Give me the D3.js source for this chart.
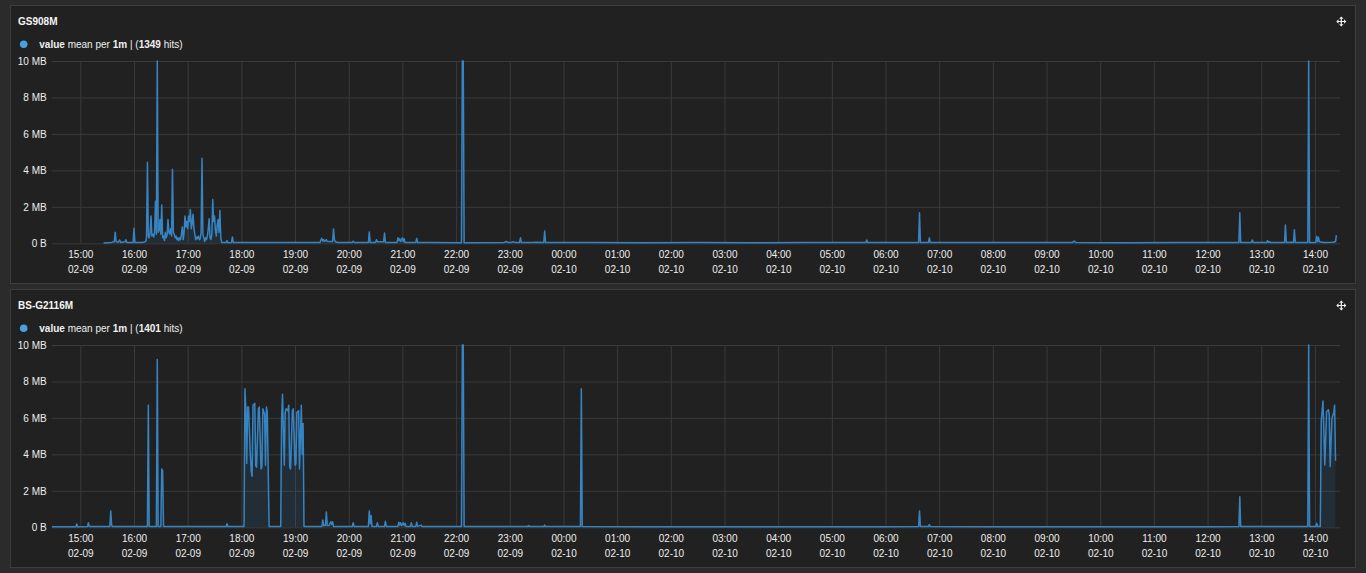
<!DOCTYPE html>
<html><head><meta charset="utf-8">
<script src="https://cdn.jsdelivr.net/npm/d3@7"></script>
<style>
html,body{margin:0;padding:0;background:#2b2b2b;}
svg{display:block;font-family:"Liberation Sans",Arial,Helvetica,sans-serif;}
</style></head><body>
<svg id="chart" width="1366" height="573"></svg>
<script>
// ---- data (values in MB, one point per minute where read) ----
const gsTimes = [
"02-09 15:26","02-09 15:35","02-09 15:38","02-09 15:39","02-09 15:40","02-09 15:42","02-09 15:44","02-09 15:45","02-09 15:50","02-09 15:51","02-09 15:52","02-09 15:59","02-09 16:00","02-09 16:01","02-09 16:10","02-09 16:13","02-09 16:14",
"02-09 16:15","02-09 16:16","02-09 16:17","02-09 16:18","02-09 16:19","02-09 16:20","02-09 16:21","02-09 16:22","02-09 16:23","02-09 16:24","02-09 16:25","02-09 16:26","02-09 16:27","02-09 16:28","02-09 16:29","02-09 16:30",
"02-09 16:31","02-09 16:32","02-09 16:33","02-09 16:34","02-09 16:35","02-09 16:36","02-09 16:37","02-09 16:38","02-09 16:39","02-09 16:40","02-09 16:41","02-09 16:42","02-09 16:43","02-09 16:44","02-09 16:45","02-09 16:46",
"02-09 16:47","02-09 16:48","02-09 16:49","02-09 16:50","02-09 16:51","02-09 16:52","02-09 16:53","02-09 16:54","02-09 16:55","02-09 16:56","02-09 16:57","02-09 16:58","02-09 16:59","02-09 17:00","02-09 17:01","02-09 17:02",
"02-09 17:03","02-09 17:04","02-09 17:05","02-09 17:06","02-09 17:07","02-09 17:08","02-09 17:09","02-09 17:10","02-09 17:11","02-09 17:12","02-09 17:13","02-09 17:14","02-09 17:15","02-09 17:16","02-09 17:17","02-09 17:18",
"02-09 17:19","02-09 17:20","02-09 17:21","02-09 17:22","02-09 17:23","02-09 17:24","02-09 17:25","02-09 17:26","02-09 17:27","02-09 17:28","02-09 17:29","02-09 17:30","02-09 17:31","02-09 17:32","02-09 17:33","02-09 17:34",
"02-09 17:35","02-09 17:36","02-09 17:37","02-09 17:38","02-09 17:43","02-09 17:44","02-09 17:45","02-09 17:49","02-09 17:50","02-09 17:51","02-09 18:10","02-09 18:40","02-09 19:10","02-09 19:28","02-09 19:29","02-09 19:30",
"02-09 19:31","02-09 19:32","02-09 19:33","02-09 19:35","02-09 19:36","02-09 19:42","02-09 19:43","02-09 19:44","02-09 19:45","02-09 19:47","02-09 20:04","02-09 20:05","02-09 20:06","02-09 20:22","02-09 20:23","02-09 20:24",
"02-09 20:30","02-09 20:31","02-09 20:32","02-09 20:39","02-09 20:40","02-09 20:41","02-09 20:54","02-09 20:55","02-09 20:56","02-09 20:57","02-09 20:58","02-09 21:00","02-09 21:01","02-09 21:02","02-09 21:03","02-09 21:15",
"02-09 21:16","02-09 21:17","02-09 21:30","02-09 22:06","02-09 22:07","02-09 22:08","02-09 22:09","02-09 22:54","02-09 22:56","02-09 22:58","02-09 23:02","02-09 23:04","02-09 23:06","02-09 23:11","02-09 23:12","02-09 23:13",
"02-09 23:25","02-09 23:30","02-09 23:38","02-09 23:39","02-09 23:40","02-10 00:30","02-10 01:30","02-10 02:30","02-10 03:30","02-10 04:30","02-10 05:38","02-10 05:39","02-10 05:40","02-10 06:20","02-10 06:37","02-10 06:38",
"02-10 06:39","02-10 06:48","02-10 06:49","02-10 06:50","02-10 07:30","02-10 08:30","02-10 09:29","02-10 09:30","02-10 09:31","02-10 09:32","02-10 09:33","02-10 10:30","02-10 11:30","02-10 12:20","02-10 12:35","02-10 12:36",
"02-10 12:37","02-10 12:49","02-10 12:50","02-10 12:51","02-10 13:06","02-10 13:07","02-10 13:08","02-10 13:09","02-10 13:10","02-10 13:26","02-10 13:27","02-10 13:28","02-10 13:34","02-10 13:36","02-10 13:37","02-10 13:38",
"02-10 13:52","02-10 13:53","02-10 13:54","02-10 14:01","02-10 14:02","02-10 14:03","02-10 14:04","02-10 14:05","02-10 14:10","02-10 14:20","02-10 14:23","02-10 14:24"];
const gsValues = [
0.02,0.05,0.1,0.6,0.1,0.05,0.18,0.05,0.08,0.2,0.05,0.05,0.82,0.05,0.05,0.1,0.3,
4.44,0.4,0.3,0.6,1.5,0.4,0.5,0.35,0.6,2.3,0.5,10,0.6,0.7,1.3,0.5,
2.1,0.3,0.4,0.15,0.6,0.3,0.45,1.3,0.6,0.5,0.8,0.4,4.06,0.6,0.5,0.3,
0.4,0.2,0.3,0.15,0.3,0.2,0.5,0.9,0.2,0.6,1.5,0.9,1.2,0.8,1.5,1.2,
1.86,0.8,1.1,1.6,0.8,0.5,0.2,0.35,0.25,0.4,0.2,0.25,0.6,4.66,0.5,0.3,
0.1,0.3,0.2,0.4,0.8,1.35,0.3,0.2,0.5,2.4,1.2,1.5,0.7,0.4,1.0,1.3,
0.6,1.8,0.3,0.05,0.05,0.15,0.03,0.05,0.35,0.05,0.04,0.04,0.05,0.05,0.2,0.27,
0.12,0.2,0.1,0.2,0.1,0.1,0.78,0.2,0.1,0.05,0.05,0.12,0.05,0.05,0.62,0.05,
0.05,0.2,0.08,0.08,0.56,0.05,0.05,0.3,0.15,0.25,0.1,0.3,0.1,0.25,0.05,0.05,
0.27,0.05,0.04,0.03,10,10,0.03,0.05,0.1,0.05,0.05,0.08,0.05,0.05,0.3,0.05,
0.05,0.06,0.05,0.67,0.05,0.04,0.03,0.04,0.03,0.04,0.04,0.18,0.04,0.04,0.05,1.68,
0.05,0.05,0.3,0.05,0.04,0.04,0.04,0.1,0.12,0.08,0.04,0.03,0.04,0.04,0.05,1.68,
0.05,0.05,0.18,0.05,0.05,0.15,0.05,0.1,0.05,0.05,1.0,0.05,0.06,0.05,0.75,0.05,
0.05,10,0.05,0.05,0.38,0.1,0.33,0.08,0.05,0.06,0.1,0.45];

const bsTimes = [
"02-09 14:28","02-09 14:55","02-09 14:56","02-09 14:57","02-09 15:08","02-09 15:09","02-09 15:10","02-09 15:33","02-09 15:34","02-09 15:35","02-09 15:36","02-09 16:15","02-09 16:16","02-09 16:17","02-09 16:25","02-09 16:26",
"02-09 16:27","02-09 16:30","02-09 16:31","02-09 16:32","02-09 16:33","02-09 17:43","02-09 17:44","02-09 17:45","02-09 18:03","02-09 18:04","02-09 18:05","02-09 18:06","02-09 18:07","02-09 18:08","02-09 18:10","02-09 18:11",
"02-09 18:12","02-09 18:13","02-09 18:15","02-09 18:16","02-09 18:17","02-09 18:19","02-09 18:20","02-09 18:22","02-09 18:23","02-09 18:24","02-09 18:26","02-09 18:27","02-09 18:28","02-09 18:29","02-09 18:31","02-09 18:44",
"02-09 18:45","02-09 18:46","02-09 18:48","02-09 18:49","02-09 18:50","02-09 18:52","02-09 18:53","02-09 18:54","02-09 18:55","02-09 18:57","02-09 18:58","02-09 19:00","02-09 19:01","02-09 19:02","02-09 19:04","02-09 19:05",
"02-09 19:07","02-09 19:08","02-09 19:09","02-09 19:10","02-09 19:30","02-09 19:31","02-09 19:32","02-09 19:34","02-09 19:35","02-09 19:36","02-09 19:38","02-09 19:40","02-09 19:41","02-09 19:42","02-09 19:43","02-09 20:04",
"02-09 20:05","02-09 20:06","02-09 20:22","02-09 20:23","02-09 20:24","02-09 20:25","02-09 20:26","02-09 20:31","02-09 20:32","02-09 20:33","02-09 20:40","02-09 20:41","02-09 20:42","02-09 20:55","02-09 20:56","02-09 20:57",
"02-09 20:58","02-09 20:59","02-09 21:01","02-09 21:02","02-09 21:03","02-09 21:04","02-09 21:09","02-09 21:10","02-09 21:11","02-09 21:15","02-09 21:16","02-09 21:17","02-09 21:21","02-09 21:22","02-09 22:06","02-09 22:07",
"02-09 22:08","02-09 22:09","02-09 23:20","02-09 23:21","02-09 23:22","02-09 23:38","02-09 23:39","02-09 23:40","02-10 00:19","02-10 00:20","02-10 00:21","02-10 01:30","02-10 03:00","02-10 04:30","02-10 06:00","02-10 06:37",
"02-10 06:38","02-10 06:39","02-10 06:48","02-10 06:49","02-10 06:50","02-10 08:00","02-10 09:30","02-10 11:00","02-10 12:00","02-10 12:35","02-10 12:36","02-10 12:37","02-10 13:52","02-10 13:53","02-10 13:54","02-10 14:01",
"02-10 14:02","02-10 14:03","02-10 14:06","02-10 14:07","02-10 14:09","02-10 14:11","02-10 14:13","02-10 14:15","02-10 14:16","02-10 14:17","02-10 14:19","02-10 14:21","02-10 14:22","02-10 14:23"];
const bsValues = [
0.03,0.03,0.18,0.03,0.04,0.25,0.04,0.05,0.9,0.1,0.04,0.04,6.7,0.04,0.04,9.2,
0.04,0.04,3.2,3.1,0.04,0.04,0.2,0.04,0.05,7.6,6.5,3.5,6.6,6.6,4.0,3.1,
2.8,6.7,6.8,3.4,3.3,6.5,6.6,3.2,3.3,6.5,6.2,3.4,6.6,6.3,0.05,0.05,
6.0,7.3,3.4,6.3,6.5,6.4,6.7,3.3,3.2,6.4,6.5,3.4,3.5,6.3,6.4,3.2,
6.7,4.0,5.7,0.05,0.05,0.4,0.1,0.1,0.84,0.1,0.1,0.3,0.15,0.3,0.05,0.05,
0.25,0.05,0.05,0.9,0.2,0.65,0.05,0.05,0.25,0.05,0.05,0.33,0.05,0.05,0.28,0.12,
0.25,0.1,0.25,0.1,0.22,0.05,0.05,0.25,0.05,0.05,0.28,0.05,0.12,0.04,0.04,10,
10,0.04,0.04,0.1,0.04,0.04,0.12,0.04,0.04,7.6,0.04,0.03,0.03,0.03,0.03,0.04,
0.9,0.04,0.04,0.15,0.04,0.03,0.03,0.03,0.03,0.04,1.68,0.04,0.04,10,0.04,0.04,
0.22,0.04,0.05,5.8,6.93,3.42,6.35,6.45,6.2,3.33,5.98,6.3,6.7,3.65];

const yTickValues = [0, 2, 4, 6, 8, 10];
const timeStart = "02-09 14:28", timeEnd = "02-10 14:28";
const panels = [
  {title: "GS908M", hits: "1349", times: gsTimes, values: gsValues},
  {title: "BS-G2116M", hits: "1401", times: bsTimes, values: bsValues}
];

// ---- drawing ----
const parse = d3.utcParse("%m-%d %H:%M");
const svg = d3.select("#chart");
const W = 1366;
const plotL = 51.7, plotR = 1340;
const lineColor = "#3784c3";
const textColor = "#efefef";

svg.append("rect").attr("width", W).attr("height", 573).attr("fill", "#2b2b2b");
const defs = svg.append("defs");

panels.forEach((p, i) => {
  const oy = 5 + i * 284;
  const g = svg.append("g").attr("transform", `translate(0,${oy})`);
  g.append("rect").attr("x", 10.5).attr("y", 0.5).attr("width", 1345).attr("height", 278)
    .attr("fill", "#212121").attr("stroke", "#3d3d3d").attr("stroke-width", 1);

  g.append("text").attr("x", 18).attr("y", 20).attr("fill", "#f5f5f5")
    .attr("font-size", 10).attr("font-weight", "bold").text(p.title);

  // move icon
  const ic = g.append("g").attr("transform", "translate(1341.3,16.5)").attr("fill", "#f0f0f0").attr("stroke", "#f0f0f0");
  ic.append("path").attr("d", "M-3.5,0H3.5M0,-3.5V3.5").attr("stroke-width", 1.2);
  ic.append("path").attr("stroke", "none")
    .attr("d", "M-5,0L-2.8,-2.2L-2.8,2.2Z M5,0L2.8,-2.2L2.8,2.2Z M0,-5L-2.2,-2.8L2.2,-2.8Z M0,5L-2.2,2.8L2.2,2.8Z");

  // legend
  g.append("circle").attr("cx", 23.7).attr("cy", 39.3).attr("r", 3.8).attr("fill", "#4a9fe0");
  const lt = g.append("text").attr("x", 39.3).attr("y", 42.6).attr("fill", textColor).attr("font-size", 10);
  lt.append("tspan").attr("font-weight", "bold").text("value");
  lt.append("tspan").text(" mean per ");
  lt.append("tspan").attr("font-weight", "bold").text("1m");
  lt.append("tspan").text(" | (");
  lt.append("tspan").attr("font-weight", "bold").text(p.hits);
  lt.append("tspan").text(" hits)");

  const top = 56, bottom = 238.3;
  const x = d3.scaleUtc().domain([parse(timeStart), parse(timeEnd)]).range([plotL, plotR]);
  const y = d3.scaleLinear().domain([0, 10]).range([bottom, top]);

  // y axis + horizontal grid
  const ya = g.append("g").attr("transform", `translate(${plotL},0)`)
    .call(d3.axisLeft(y).tickValues(yTickValues).tickSize(-(plotR - plotL)).tickPadding(5)
      .tickFormat(v => v === 0 ? "0 B" : v + " MB"));
  ya.select(".domain").remove();
  ya.selectAll("line").attr("stroke", "#3a3a3a");
  ya.selectAll("text").attr("fill", textColor).attr("font-size", 10).attr("font-family", null);

  // x axis + vertical grid
  const xa = g.append("g").attr("transform", `translate(0,${bottom})`)
    .call(d3.axisBottom(x).ticks(d3.utcHour.every(1)).tickSize(-(bottom - top)).tickPadding(0));
  xa.select(".domain").remove();
  xa.selectAll("line").attr("stroke", "#3a3a3a");
  const fT = d3.utcFormat("%H:%M"), fD = d3.utcFormat("%m-%d");
  xa.selectAll(".tick text").each(function(d) {
    const t = d3.select(this).text(null).attr("dy", null).attr("y", null)
      .attr("fill", textColor).attr("font-size", 10).attr("font-family", null);
    t.append("tspan").attr("x", 0).attr("y", 14.4).text(fT(d));
    t.append("tspan").attr("x", 0).attr("y", 30).text(fD(d));
  });

  const clipId = "clip" + i;
  defs.append("clipPath").attr("id", clipId).append("rect")
    .attr("x", plotL).attr("y", oy + top - 2).attr("width", plotR - plotL).attr("height", bottom - top + 3);

  const data = p.times.map((t, k) => ({t: parse(t), v: p.values[k]}));
  const cg = svg.append("g").attr("clip-path", `url(#${clipId})`).append("g").attr("transform", `translate(0,${oy})`);
  cg.append("path").datum(data)
    .attr("d", d3.area().x(d => x(d.t)).y0(y(0)).y1(d => y(d.v)))
    .attr("fill", "rgba(55,132,195,0.13)");
  cg.append("path").datum(data)
    .attr("d", d3.line().x(d => x(d.t)).y(d => y(d.v)))
    .attr("fill", "none").attr("stroke", lineColor).attr("stroke-width", 1.5).attr("stroke-linejoin", "round");
});
</script>
</body></html>
